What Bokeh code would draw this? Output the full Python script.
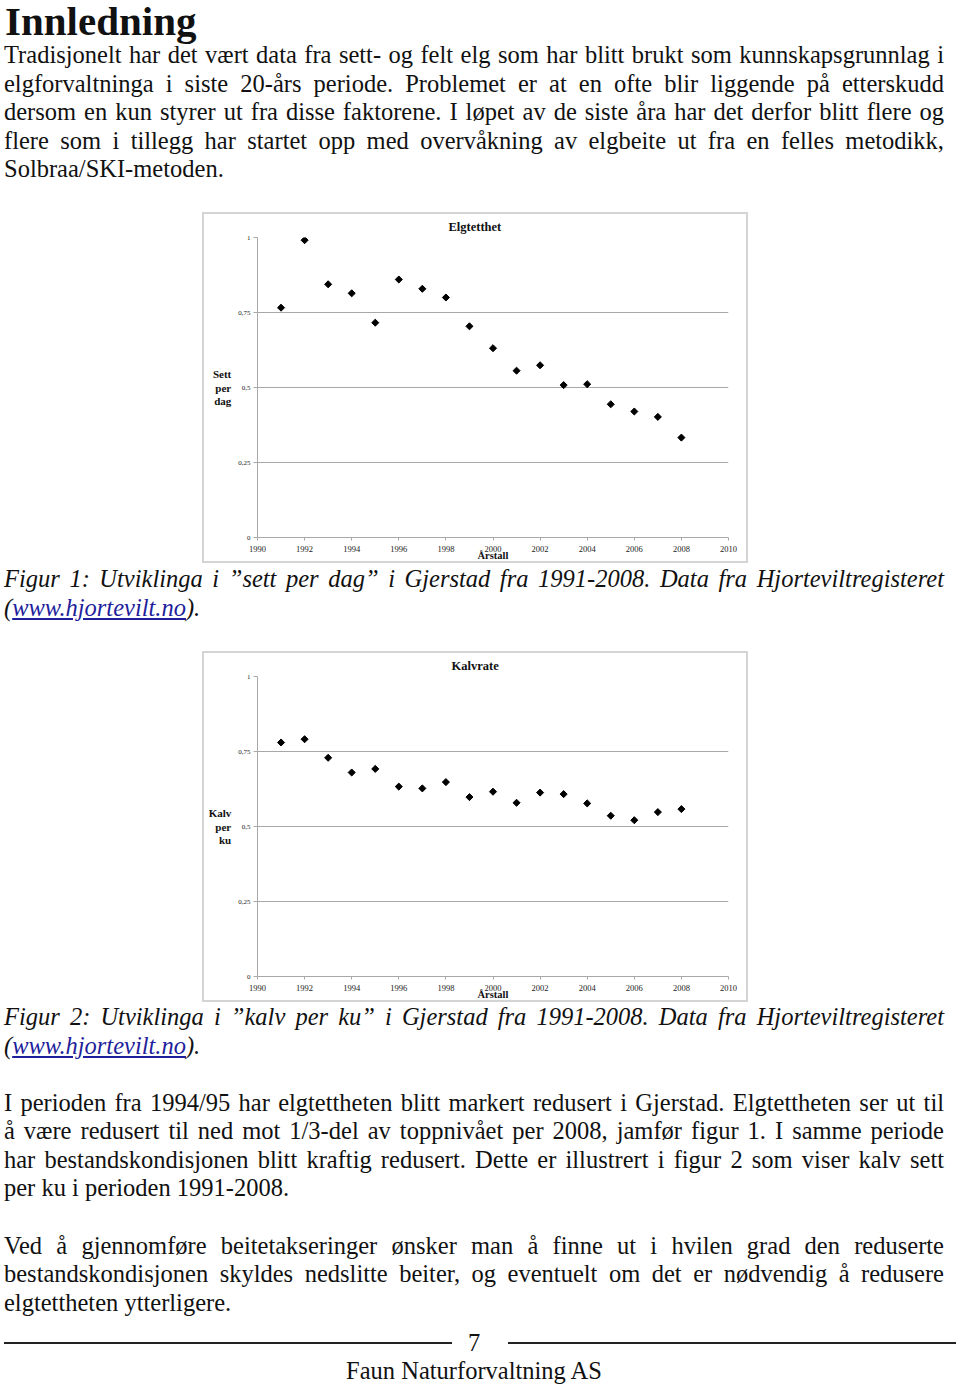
import math
from bokeh.plotting import figure
from bokeh.models import Div, Spacer, FixedTicker, Range1d, Title
from bokeh.layouts import column, row
from bokeh.embed import file_html
from bokeh.resources import INLINE

# ---------------- data ----------------
years = list(range(1991, 2009))
sett_per_dag = [0.766, 0.991, 0.844, 0.814, 0.716, 0.860, 0.829, 0.800, 0.704,
                0.631, 0.556, 0.574, 0.508, 0.511, 0.444, 0.420, 0.402, 0.333]
kalv_per_ku = [0.780, 0.791, 0.729, 0.680, 0.692, 0.633, 0.627, 0.648, 0.598,
               0.616, 0.579, 0.613, 0.608, 0.577, 0.536, 0.521, 0.548, 0.558]
x_ticks = list(range(1990, 2011, 2))
y_ticks = [0, 0.25, 0.5, 0.75, 1]
y_tick_labels = ["0", "0,25", "0,5", "0,75", "1"]

FONT = "Liberation Serif"
INK = "#111111"


def make_chart(title, title_offset, ylabel, values):
    p = figure(width=546, height=351, output_backend="svg", toolbar_location=None,
               x_range=Range1d(1990, 2010), y_range=Range1d(0, 1),
               min_border_left=55, min_border_right=20, min_border_top=25, min_border_bottom=26,
               background_fill_color="white", border_fill_color="white",
               outline_line_color=None, margin=0)
    # title centred on the whole chart box (not only on the plot area)
    p.add_layout(Title(text=title, align="left", text_font=FONT, text_font_size="12.5px",
                       text_font_style="bold", text_color=INK, standoff=7,
                       offset=title_offset), "above")
    p.xgrid.grid_line_color = None
    p.ygrid.grid_line_color = "#a8a8a8"
    p.ygrid.grid_line_width = 1.2
    p.ygrid.ticker = FixedTicker(ticks=y_ticks)
    p.xaxis.ticker = FixedTicker(ticks=x_ticks)
    p.yaxis.ticker = FixedTicker(ticks=y_ticks)
    p.yaxis.major_label_overrides = {t: l for t, l in zip(y_ticks, y_tick_labels)}
    for ax in (p.xaxis[0], p.yaxis[0]):
        ax.axis_line_color = "#a8a8a8"
        ax.major_tick_line_color = "#a8a8a8"
        ax.minor_tick_line_color = None
        ax.major_tick_in = 0
        ax.major_label_text_font = FONT
        ax.major_label_text_color = "#222222"
        ax.axis_label_text_font = FONT
        ax.axis_label_text_font_style = "bold"
        ax.axis_label_text_color = INK
    p.xaxis.major_tick_out = 3
    p.xaxis.major_label_standoff = 5
    p.xaxis.major_label_text_font_size = "8.5px"
    p.xaxis.axis_label = "Årstall"
    p.xaxis.axis_label_text_font_size = "10.5px"
    p.xaxis.axis_label_standoff = -5
    p.yaxis.major_tick_out = 4
    p.yaxis.major_label_standoff = 3
    p.yaxis.major_label_text_font_size = "7px"
    p.yaxis.axis_label = ylabel
    p.yaxis.axis_label_text_font_size = "11px"
    p.yaxis.axis_label_orientation = "horizontal"
    p.yaxis.axis_label_standoff = 4
    p.yaxis.axis_label_text_line_height = 1.1

    p.scatter(years, values, marker="square", angle=math.pi / 4, size=5, color="black")
    return p


def line(text, baseline, div_top, size=24.5, style="", justify=True, left=4, width=940, align=None):
    top = baseline - div_top - 0.8375 * size
    ta = "justify" if justify else "left"
    if align:
        ta = align
    return (f'<div style="position:absolute;left:{left}px;top:{top:.1f}px;width:{width}px;'
            f'font-family:\'{FONT}\';font-size:{size}px;line-height:{size}px;color:{INK};'
            f'white-space:nowrap;text-align:{ta};text-align-last:{ta};{style}">{text}</div>')


def frame_box(page_x, page_y, w, h, div_top):
    # light border drawn round a chart (overlaid from the following block)
    return (f'<div style="position:absolute;left:{page_x}px;top:{page_y - div_top}px;width:{w}px;'
            f'height:{h}px;box-sizing:border-box;border:2px solid #d4d4d4;pointer-events:none;"></div>')


def block(inner, w, h):
    return f'<div style="position:relative;width:{w}px;height:{h}px;">{inner}</div>'


intro = [
    "Tradisjonelt har det vært data fra sett- og felt elg som har blitt brukt som kunnskapsgrunnlag i",
    "elgforvaltninga i siste 20-års periode. Problemet er at en ofte blir liggende på etterskudd",
    "dersom en kun styrer ut fra disse faktorene. I løpet av de siste åra har det derfor blitt flere og",
    "flere som i tillegg har startet opp med overvåkning av elgbeite ut fra en felles metodikk,",
    "Solbraa/SKI-metoden.",
]
para3 = [
    "I perioden fra 1994/95 har elgtettheten blitt markert redusert i Gjerstad. Elgtettheten ser ut til",
    "å være redusert til ned mot 1/3-del av toppnivået per 2008, jamfør figur 1. I samme periode",
    "har bestandskondisjonen blitt kraftig redusert. Dette er illustrert i figur 2 som viser kalv sett",
    "per ku i perioden 1991-2008.",
]
para4 = [
    "Ved å gjennomføre beitetakseringer ønsker man å finne ut i hvilen grad den reduserte",
    "bestandskondisjonen skyldes nedslitte beiter, og eventuelt om det er nødvendig å redusere",
    "elgtettheten ytterligere.",
]
link = '(<span style="color:#1f1f9c;text-decoration:underline;">www.hjortevilt.no</span>).'

W = 960
# top block: page y 0 .. 212
T0 = 0
top_html = line("Innledning", 35.5, T0, size=41, style="font-weight:bold;", justify=False, left=5)
for i, t in enumerate(intro):
    top_html += line(t, 63.5 + 28.5 * i, T0, justify=(i < len(intro) - 1))
top_div = Div(text=block(top_html, W, 212), width=W, height=212, margin=0)

# middle block: page y 563 .. 651
M0 = 563
mid_html = frame_box(202, 212, 546, 351, M0)
mid_html += line("Figur 1: Utviklinga i ”sett per dag” i Gjerstad fra 1991-2008. Data fra Hjorteviltregisteret",
                 587, M0, style="font-style:italic;")
mid_html += line(link, 616, M0, style="font-style:italic;", justify=False)
mid_div = Div(text=block(mid_html, W, 88), width=W, height=88, margin=0)

# bottom block: page y 1002 .. 1386
B0 = 1002
bot_html = frame_box(202, 651, 546, 351, B0)
bot_html += line("Figur 2: Utviklinga i ”kalv per ku” i Gjerstad fra 1991-2008. Data fra Hjorteviltregisteret",
                 1025, B0, style="font-style:italic;")
bot_html += line(link, 1054, B0, style="font-style:italic;", justify=False)
for i, t in enumerate(para3):
    bot_html += line(t, 1111 + 28.6 * i, B0, justify=(i < len(para3) - 1))
for i, t in enumerate(para4):
    bot_html += line(t, 1254 + 28.6 * i, B0, justify=(i < len(para4) - 1))
bot_html += (f'<div style="position:absolute;left:4px;top:{1342 - B0}px;width:448px;'
             f'height:0;border-top:2px solid #222;"></div>')
bot_html += (f'<div style="position:absolute;left:508px;top:{1342 - B0}px;width:448px;'
             f'height:0;border-top:2px solid #222;"></div>')
bot_html += line("7", 1351, B0, justify=False, left=424, width=100, align="center")
bot_html += line("Faun Naturforvaltning AS", 1379, B0, justify=False, left=274, width=400, align="center")
bot_div = Div(text=block(bot_html, W, 384), width=W, height=384, margin=0)

p1 = make_chart("Elgtetthet", 191, "Sett\nper\ndag", sett_per_dag)
p2 = make_chart("Kalvrate", 194, "Kalv\nper\nku", kalv_per_ku)

layout = column(
    top_div,
    row(Spacer(width=202, height=351, margin=0), p1, margin=0),
    mid_div,
    row(Spacer(width=202, height=351, margin=0), p2, margin=0),
    bot_div,
    margin=0,
)

open("out.html", "w").write(file_html(layout, INLINE))
